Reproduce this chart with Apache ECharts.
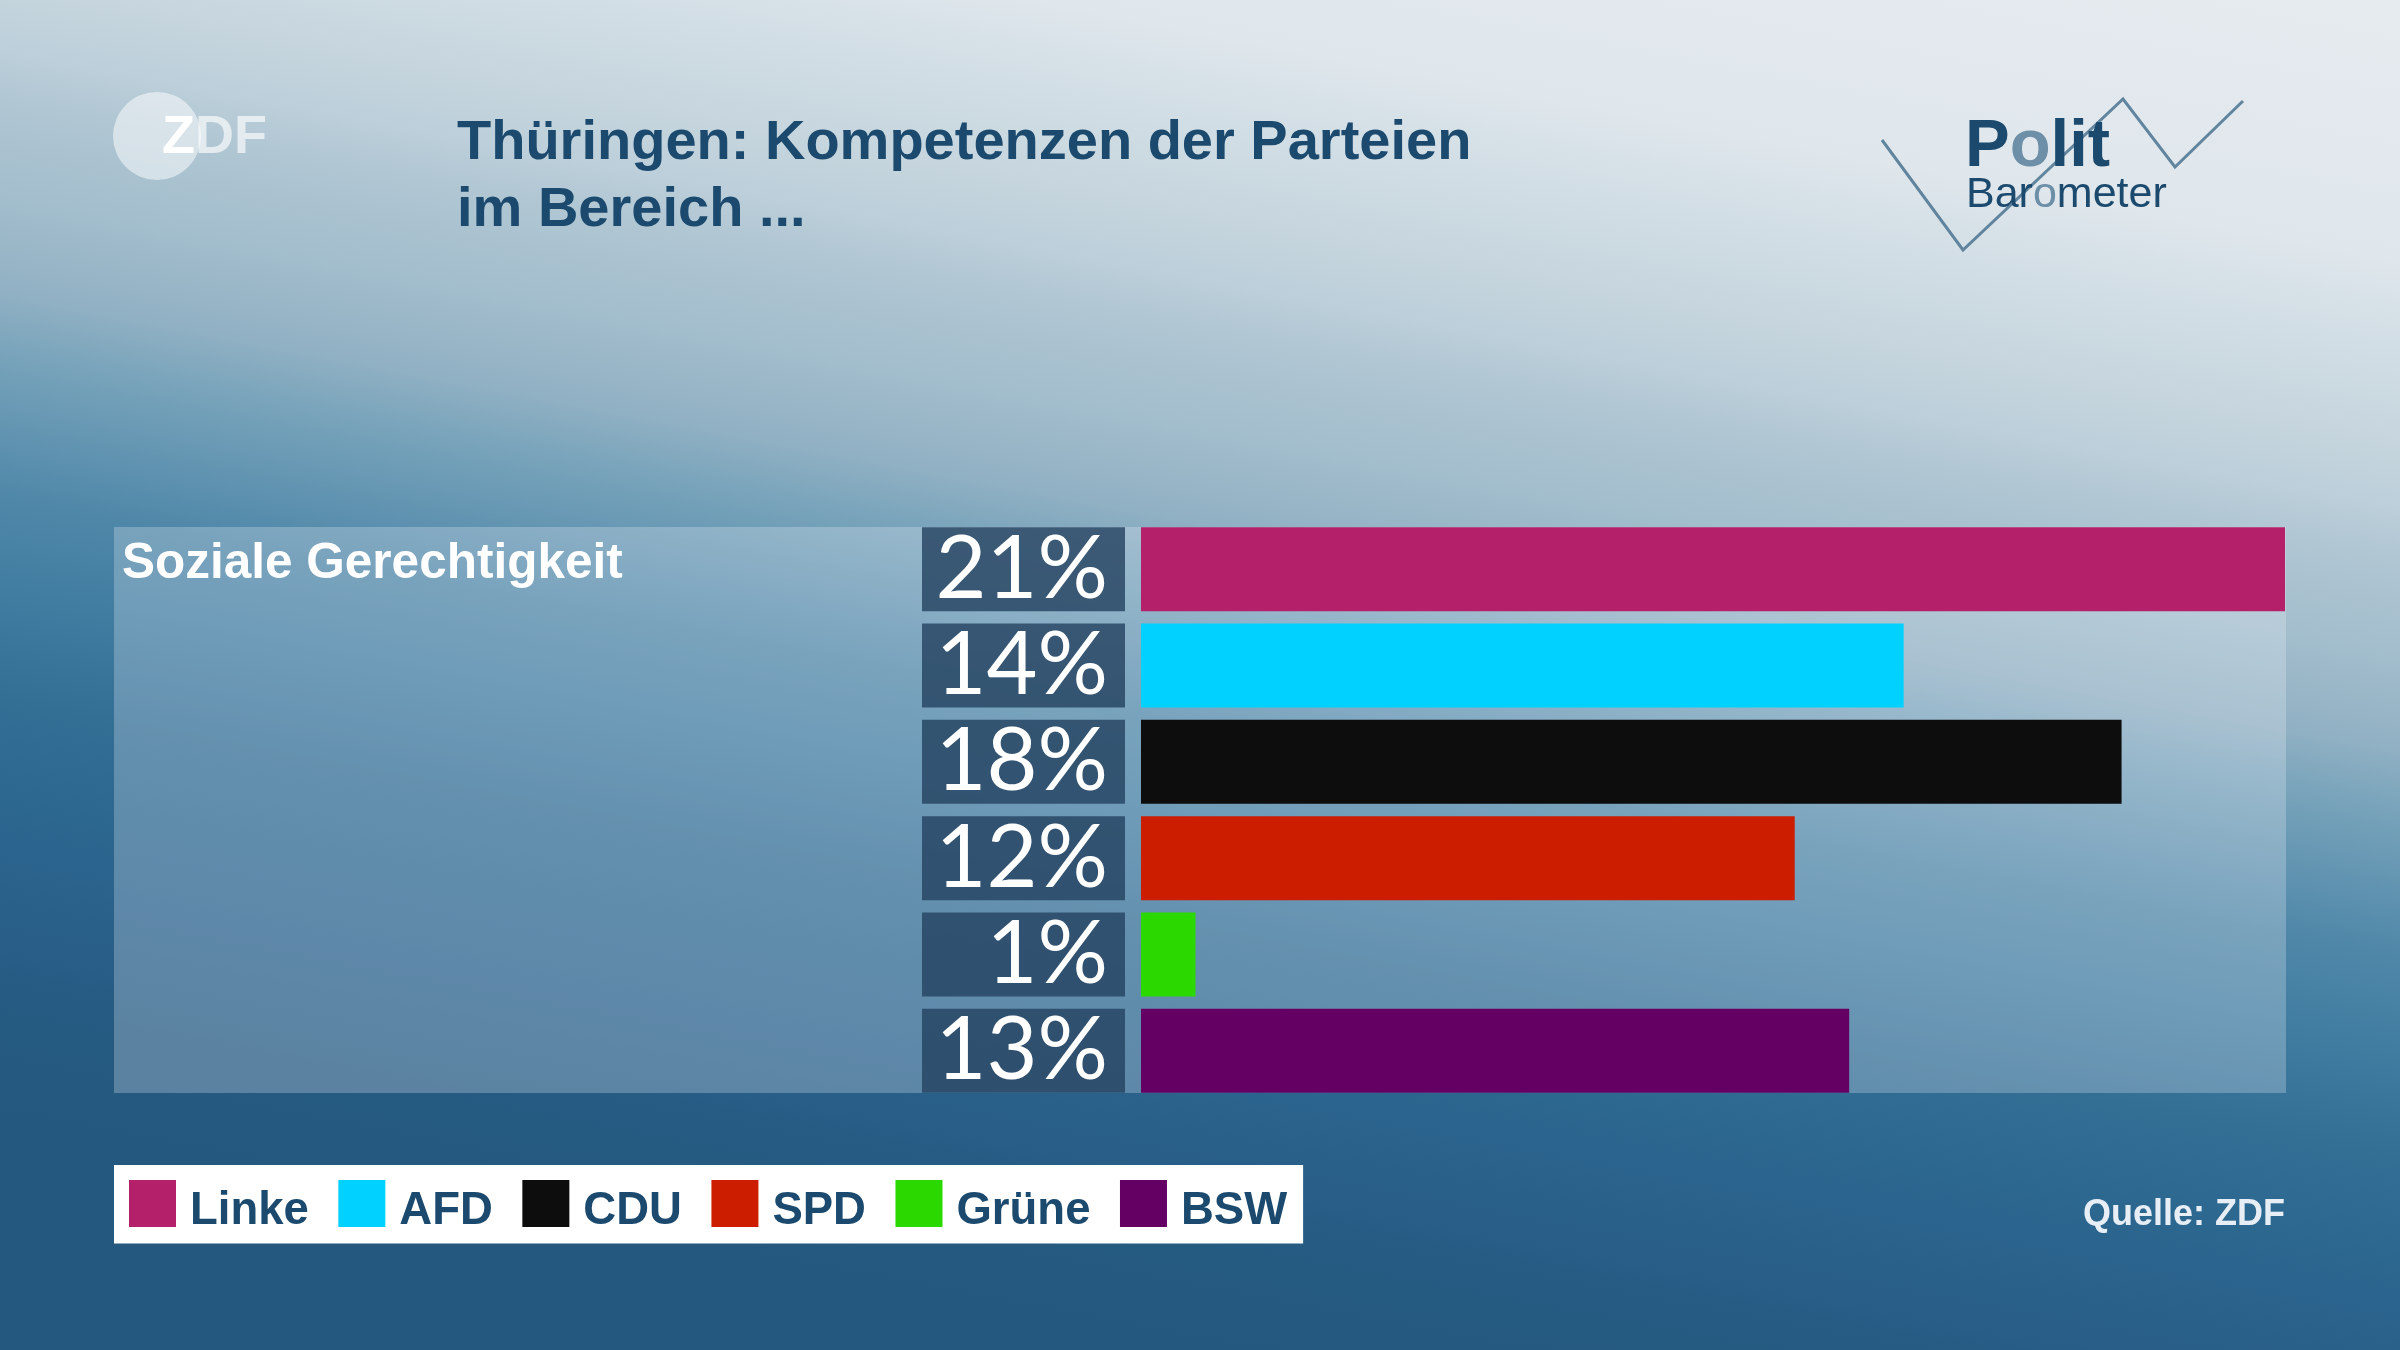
<!DOCTYPE html>
<html>
<head>
<meta charset="utf-8">
<script src="https://cdn.jsdelivr.net/npm/echarts@6/dist/echarts.min.js"></script>
<style>html,body{margin:0;padding:0;background:#245a80;}#c{width:2400px;height:1350px;}</style>
</head>
<body>
<div id="c"></div>
<script>
const parties = ['Linke', 'AFD', 'CDU', 'SPD', 'Grüne', 'BSW'];
const shares = [21, 14, 18, 12, 1, 13];
const partyColors = ['#b5206a', '#00d1ff', '#0d0d0d', '#cc1d00', '#2bd900', '#640064'];
const topic = 'Soziale Gerechtigkeit';
const titleText = 'Thüringen: Kompetenzen der Parteien\nim Bereich ...';
const sourceText = 'Quelle: ZDF';

const chart = echarts.init(document.getElementById('c'), null, {renderer: 'canvas'});

const bgGradient = {
  type: 'linear', global: true, x: 84, y: -442, x2: -206, y2: 1080,
  colorStops: [
    {offset: 0.0, color: '#e5ebef'},
    {offset: 0.165, color: '#e0e7ec'},
    {offset: 0.194, color: '#d7e2e8'},
    {offset: 0.29, color: '#c4d4dd'},
    {offset: 0.323, color: '#bccfda'},
    {offset: 0.355, color: '#b0c6d3'},
    {offset: 0.419, color: '#a2bdcc'},
    {offset: 0.477, color: '#90b0c3'},
    {offset: 0.513, color: '#79a4bb'},
    {offset: 0.574, color: '#5d91af'},
    {offset: 0.606, color: '#4f87a8'},
    {offset: 0.671, color: '#3f7ca0'},
    {offset: 0.735, color: '#336e95'},
    {offset: 0.80, color: '#2c6790'},
    {offset: 0.865, color: '#29608a'},
    {offset: 0.935, color: '#255a81'},
    {offset: 1.0, color: '#24587f'}
  ]
};

const series = parties.map((name, i) => ({
  name: name,
  type: 'bar',
  stack: 'all',
  barWidth: 84,
  itemStyle: {color: partyColors[i]},
  data: shares.map((v, j) => (j === i ? v : '-')),
  animation: false
}));

chart.setOption({
  animation: false,
  backgroundColor: '#245a80',
  title: {
    text: titleText,
    left: 457, top: 110, padding: 0,
    textStyle: {fontFamily: 'Liberation Sans', fontSize: 56, fontWeight: 'bold', color: '#1b4a6e', lineHeight: 67}
  },
  legend: {
    data: parties,
    left: 114, top: 1165,
    padding: [15, 16, 9, 15],
    backgroundColor: '#ffffff',
    icon: 'rect',
    itemWidth: 47, itemHeight: 47, itemGap: 29.5,
    selectedMode: false,
    formatter: (name) => '{t|' + name + '}',
    textStyle: {
      fontFamily: 'Liberation Sans', fontSize: 45.5, fontWeight: 'bold', color: '#1b4a6e',
      rich: {t: {fontFamily: 'Liberation Sans', fontSize: 45.5, fontWeight: 'bold', color: '#1b4a6e', lineHeight: 47, padding: [8, 0, -8, 9]}}
    }
  },
  grid: {left: 1141, right: 115, top: 521, bottom: 251, containLabel: false},
  xAxis: {type: 'value', min: 0, max: 21, show: false},
  yAxis: {
    type: 'category', inverse: true, data: parties,
    axisLine: {show: false}, axisTick: {show: false}, splitLine: {show: false},
    axisLabel: {
      interval: 0, margin: 16,
      formatter: (v, i) => shares[i] + '%',
      fontFamily: 'Lato', fontSize: 88, color: '#ffffff',
      backgroundColor: 'rgba(35,65,95,0.8)',
      width: 186, height: 84, lineHeight: 84,
      padding: [0, 17, 0, 0],
      align: 'right', verticalAlign: 'middle'
    }
  },
  graphic: [
    {type: 'rect', z: -100, silent: true, shape: {x: 0, y: 0, width: 2400, height: 1350}, style: {fill: bgGradient}},
    {type: 'rect', z: -50, silent: true, shape: {x: 114, y: 527, width: 2172, height: 566}, style: {fill: 'rgba(238,242,246,0.27)'}},
    {type: 'circle', z: 10, silent: true, shape: {cx: 157, cy: 136, r: 44}, style: {fill: 'rgba(255,255,255,0.5)'}},
    {type: 'text', z: 11, silent: true, style: {x: 162, y: 138, textVerticalAlign: 'middle', text: '{a|Z}{b|DF}', rich: {
      a: {fontFamily: 'Liberation Sans', fontSize: 54, fontWeight: 'bold', fill: '#ffffff', color: '#ffffff'},
      b: {fontFamily: 'Liberation Sans', fontSize: 54, fontWeight: 'bold', fill: 'rgba(255,255,255,0.65)', color: 'rgba(255,255,255,0.65)'}
    }}},
    {type: 'polyline', z: 10, silent: true, shape: {points: [[1882, 140], [1963, 250], [2123, 99], [2175, 167], [2243, 101]]}, style: {stroke: 'rgba(75,115,145,0.85)', lineWidth: 3, fill: null}},
    {type: 'text', z: 11, silent: true, style: {x: 1965, y: 148, textVerticalAlign: 'middle', text: '{a|P}{b|o}{a|lit}', rich: {
      a: {fontFamily: 'Liberation Sans', fontSize: 67, fontWeight: 'bold', fill: '#1b4a6e', color: '#1b4a6e'},
      b: {fontFamily: 'Liberation Sans', fontSize: 67, fontWeight: 'bold', fill: '#6d8fa8', color: '#6d8fa8'}
    }}},
    {type: 'text', z: 11, silent: true, style: {x: 1966, y: 195, textVerticalAlign: 'middle', text: '{a|Bar}{b|o}{a|meter}', rich: {
      a: {fontFamily: 'Liberation Sans', fontSize: 43, fill: '#1b4a6e', color: '#1b4a6e'},
      b: {fontFamily: 'Liberation Sans', fontSize: 43, fill: '#6d8fa8', color: '#6d8fa8'}
    }}},
    {type: 'text', z: 11, silent: true, style: {x: 122, y: 564, text: topic, font: 'bold 49.5px "Liberation Sans"', fill: '#ffffff', textAlign: 'left', textVerticalAlign: 'middle'}},
    {type: 'text', z: 11, silent: true, style: {x: 2285, y: 1215, text: sourceText, font: 'bold 36px "Liberation Sans"', fill: '#e8eef5', textAlign: 'right', textVerticalAlign: 'middle'}}
  ],
  series: series
});
</script>
</body>
</html>
